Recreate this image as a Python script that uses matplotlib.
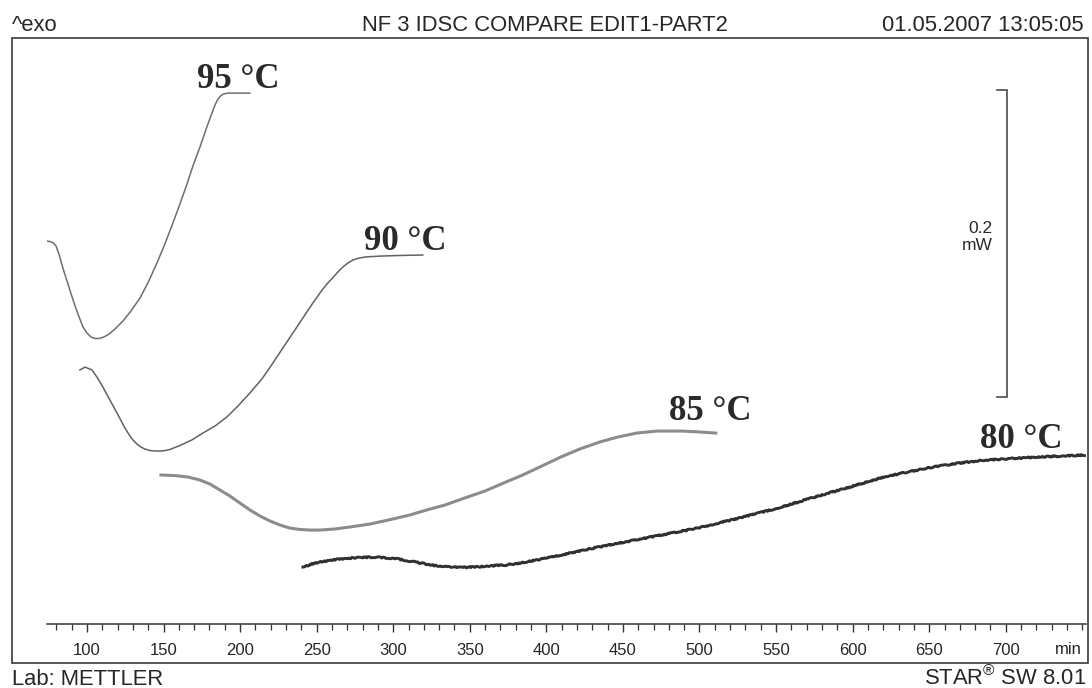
import matplotlib
matplotlib.use("Agg")
import matplotlib.pyplot as plt
from matplotlib.patches import Rectangle
from matplotlib.ticker import MultipleLocator

# ---- measured DSC traces: time (min) vs heat flow (mW, arbitrary offset) ----
t_95 = [74.0, 75.8, 77.8, 79.8, 81.7, 84.3, 87.6, 90.9, 94.1, 97.4, 100.0,
        102.6, 105.2, 107.8, 111.1, 114.4, 118.3, 123.5, 128.7, 134.6, 139.8,
        145.7, 150.9, 156.1, 160.7, 165.3, 169.2, 173.8, 178.3, 181.6, 183.6,
        185.5, 187.5, 189.4, 192.0, 206.4]
hf_95 = [0.2495, 0.2492, 0.2485, 0.2463, 0.2410, 0.2319, 0.2215, 0.2111, 0.2020,
         0.1935, 0.1896, 0.1870, 0.1860, 0.1860, 0.1870, 0.1889, 0.1922, 0.1974,
         0.2039, 0.2124, 0.2222, 0.2352, 0.2476, 0.2612, 0.2736, 0.2866, 0.2984,
         0.3108, 0.3238, 0.3329, 0.3381, 0.3420, 0.3443, 0.3454, 0.3459, 0.3459]

t_90 = [95.4, 98.7, 103.3, 106.5, 110.4, 115.0, 119.6, 122.2, 124.8, 127.4,
        130.0, 132.6, 135.2, 137.9, 141.1, 144.4, 147.7, 150.9, 154.2, 157.4,
        160.7, 168.5, 175.7, 183.6, 191.4, 198.6, 206.4, 214.2, 221.4, 227.9,
        234.5, 241.0, 247.5, 254.0, 257.3, 260.6, 263.8, 267.1, 270.4, 273.6,
        276.9, 281.5, 286.0, 291.3, 304.3, 319.3]
hf_90 = [0.1655, 0.1674, 0.1655, 0.1609, 0.1544, 0.1459, 0.1375, 0.1326, 0.1277,
         0.1235, 0.1199, 0.1173, 0.1153, 0.1140, 0.1130, 0.1127, 0.1127, 0.1130,
         0.1137, 0.1150, 0.1163, 0.1199, 0.1244, 0.1290, 0.1349, 0.1420, 0.1505,
         0.1596, 0.1700, 0.1798, 0.1896, 0.1994, 0.2091, 0.2182, 0.2222, 0.2257,
         0.2293, 0.2326, 0.2352, 0.2371, 0.2382, 0.2391, 0.2394, 0.2397, 0.2401,
         0.2404]

t_85 = [148.3, 157.4, 165.9, 173.8, 180.3, 186.8, 193.3, 199.9, 206.4, 212.9,
        219.5, 226.0, 232.5, 239.0, 245.6, 252.1, 261.9, 271.7, 284.7, 297.1,
        310.8, 321.9, 333.7, 346.7, 359.8, 372.2, 384.6, 397.0, 409.4, 421.8,
        434.9, 446.6, 459.0, 472.1, 489.0, 500.1, 510.6]
hf_85 = [0.0971, 0.0967, 0.0958, 0.0938, 0.0912, 0.0873, 0.0834, 0.0788, 0.0743,
         0.0704, 0.0671, 0.0645, 0.0625, 0.0616, 0.0612, 0.0612, 0.0619, 0.0632,
         0.0651, 0.0678, 0.0710, 0.0743, 0.0775, 0.0821, 0.0866, 0.0919, 0.0971,
         0.1029, 0.1088, 0.1140, 0.1186, 0.1218, 0.1244, 0.1257, 0.1257, 0.1251,
         0.1244]

t_80 = [241.0, 248.8, 259.9, 271.7, 287.3, 301.0, 310.8, 321.3, 331.7, 342.2,
        353.3, 362.4, 372.8, 383.3, 393.7, 403.5, 417.2, 430.9, 447.9, 464.9,
        481.9, 498.8, 512.5, 526.2, 539.9, 553.7, 568.7, 584.3, 601.3, 618.3,
        635.2, 652.9, 669.8, 686.8, 703.8, 720.8, 736.4, 751.4]
hf_80 = [0.0371, 0.0397, 0.0417, 0.0430, 0.0436, 0.0427, 0.0410, 0.0391, 0.0375,
         0.0368, 0.0371, 0.0378, 0.0384, 0.0397, 0.0417, 0.0436, 0.0466, 0.0495,
         0.0528, 0.0560, 0.0593, 0.0625, 0.0658, 0.0691, 0.0726, 0.0762, 0.0808,
         0.0853, 0.0902, 0.0951, 0.0990, 0.1023, 0.1049, 0.1068, 0.1078, 0.1088,
         0.1094, 0.1101]

curve_labels = ["95 °C", "90 °C", "85 °C", "80 °C"]
x_ticks = [100, 150, 200, 250, 300, 350, 400, 450, 500, 550, 600, 650, 700]
scale_bar_mw = 0.2

W, H = 1092, 688
fig = plt.figure(figsize=(W / 100, H / 100), dpi=100)
fig.patch.set_facecolor("white")
plt.rcParams["mathtext.fontset"] = "custom"
plt.rcParams["mathtext.rm"] = "Liberation Sans"

sans = "Liberation Sans"
serif = "Liberation Serif"
ink = "#262626"

# outer frame of the printout
fig.add_artist(Rectangle((12 / W, 1 - 663 / H), (1088 - 12) / W, (663 - 38) / H,
                         transform=fig.transFigure, fill=False,
                         edgecolor="#3a3a3a", linewidth=1.2))

ax = fig.add_axes([47 / W, 1 - 624 / H, (1086 - 47) / W, (624 - 38) / H])
ax.set_facecolor("none")
ax.set_xlim(73.9, 752.4)
ax.set_ylim(0, 0.3818)

ax.plot(t_95, hf_95, color="#6e6e6e", lw=1.1, solid_joinstyle="round")
ax.plot(t_90, hf_90, color="#626262", lw=1.1, solid_joinstyle="round")
ax.plot(t_85, hf_85, color="#8c8c8c", lw=2.2, solid_joinstyle="round")
line80, = ax.plot(t_80, hf_80, color="#303030", lw=2.1, solid_joinstyle="round")
line80.set_sketch_params(scale=0.6, length=3, randomness=10)

label_pos = [(198.6, 0.3492), (307.6, 0.2437), (507.3, 0.1329), (710.3, 0.1147)]
for txt, (lx, ly) in zip(curve_labels, label_pos):
    ax.text(lx, ly, txt, ha="center", va="baseline", fontsize=25,
            fontweight="bold", family=serif, color="#2a2a2a")

# heat-flow scale bar
bar_x, bar_y0 = 700.5, 0.1479
ax.plot([bar_x - 6.5, bar_x, bar_x, bar_x - 6.5],
        [bar_y0, bar_y0, bar_y0 + scale_bar_mw, bar_y0 + scale_bar_mw],
        color="#4a4a4a", lw=1.2, solid_joinstyle="miter")
ax.text(691.4, bar_y0 + scale_bar_mw / 2 + 0.004, f"{scale_bar_mw:g}\nmW",
        ha="right", va="center", fontsize=12.5, family=sans, color=ink,
        linespacing=1.15)

for side in ("left", "right", "top"):
    ax.spines[side].set_visible(False)
ax.spines["bottom"].set_color("#333333")
ax.spines["bottom"].set_linewidth(1.1)
ax.set_yticks([])
ax.set_xticks(x_ticks)
ax.set_xticklabels([str(v) for v in x_ticks])
ax.xaxis.set_minor_locator(MultipleLocator(10))
ax.tick_params(axis="x", which="major", direction="out", length=6, width=1.0,
               color="#333333", labelsize=12, pad=8, labelcolor=ink)
ax.tick_params(axis="x", which="minor", direction="out", length=4, width=0.9,
               color="#333333")
for lab in ax.get_xticklabels():
    lab.set_family(sans)

fig.text(1082 / W, 1 - 649 / H, "min", ha="right", va="center",
         fontsize=12, family=sans, color=ink)

# header and footer
hdr = 15.8
fig.text(12 / W, 1 - 31 / H, "^exo", ha="left", va="baseline",
         fontsize=hdr, family=sans, color=ink)
fig.text(545 / W, 1 - 31 / H, "NF 3 IDSC COMPARE EDIT1-PART2", ha="center",
         va="baseline", fontsize=hdr, family=sans, color=ink)
fig.text(1084 / W, 1 - 31 / H, "01.05.2007 13:05:05", ha="right",
         va="baseline", fontsize=hdr, family=sans, color=ink)
fig.text(12 / W, 1 - 685 / H, "Lab: METTLER", ha="left", va="baseline",
         fontsize=hdr, family=sans, color=ink)
fig.text(1086 / W, 1 - 685 / H, r"STAR$^{\circledR}$ SW 8.01", ha="right",
         va="baseline", fontsize=hdr, family=sans, color=ink)

fig.savefig("out.png", dpi=100, facecolor="white")
